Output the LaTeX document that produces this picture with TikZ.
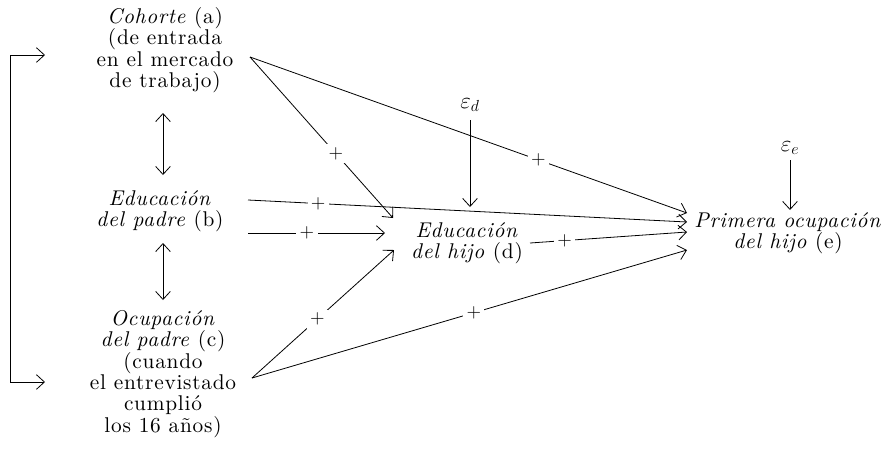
\documentclass[tikz,border=0pt]{standalone}
\usepackage{fontspec}
\setmainfont{lmroman10-regular.otf}[ItalicFont=lmroman10-italic.otf, BoldFont=lmroman10-bold.otf, BoldItalicFont=lmroman10-bolditalic.otf, LetterSpace=3.5]
\usetikzlibrary{arrows.meta}
\begin{document}
\begin{tikzpicture}[x=0.75pt,y=-0.75pt,
  txt/.style={align=center, font=\fontsize{16}{16}\selectfont, inner sep=0pt},
  tip/.tip={Straight Barb[length=6pt,width=11pt]},
  arr/.style={-tip, line width=0.6pt},
  dbl/.style={tip-tip, line width=0.6pt},
  ln/.style={line width=0.6pt},
  plus/.style={fill=white, inner sep=2.5pt, font=\fontsize{14}{14}\selectfont},
  eps/.style={inner sep=0pt, font=\fontsize{17}{17}\selectfont}]
\useasboundingbox (0,0) rectangle (882,451);

% text nodes
\node[txt] (a) at (165,50) {\textit{Cohorte} (a)\\(de entrada\\en el mercado\\de trabajo)};
\node[txt] (b) at (160,211) {\textit{Educación}\\\textit{del padre} (b)};
\node[txt] (c) at (163,374) {\textit{Ocupación}\\\textit{del padre} (c)\\(cuando\\el entrevistado\\cumplió\\los 16 años)};
\node[txt] (d) at (467,243) {\textit{Educación}\\\textit{del hijo} (d)};
\node[txt] (e) at (788,233) {\textit{Primera ocupación}\\\textit{del hijo} (e)};
\node[eps] (ed) at (470,105) {$\varepsilon_{d}$};
\node[eps] (ee) at (790,148) {$\varepsilon_{e}$};

% connector end points
\coordinate (aout) at (250,57);
\coordinate (bout1) at (248,200);
\coordinate (bout2) at (248,233);
\coordinate (cout) at (252,378);
\coordinate (din1) at (393,218);
\coordinate (din2) at (385,233);
\coordinate (din3) at (394,250);
\coordinate (dout) at (530,243);
\coordinate (ein1) at (687,213);
\coordinate (ein2) at (687,222);
\coordinate (ein3) at (687,232);
\coordinate (ein4) at (687,250);
\coordinate (edt) at (470,120);
\coordinate (edb) at (470,207);
\coordinate (eet) at (790,160);
\coordinate (eeb) at (790,210);
\coordinate (abt) at (163,113);
\coordinate (abb) at (163,175);
\coordinate (bct) at (163,243);
\coordinate (bcb) at (163,300);
\coordinate (la) at (45,55);
\coordinate (lc) at (45,382);
\coordinate (k1) at (10,55);
\coordinate (k2) at (10,382);

% bracket
\draw[dbl] (la) -- (k1) -- (k2) -- (lc);
% double arrows
\draw[dbl] (abt) -- (abb);
\draw[dbl] (bct) -- (bcb);
% error terms
\draw[arr] (edt) -- (edb);
\draw[arr] (eet) -- (eeb);
% paths
\draw[arr] (aout) -- node[plus, pos=0.66] {+} (ein1);
\draw[arr] (aout) -- node[plus, pos=0.6] {+} (din1);
\draw[arr] (bout1) -- node[plus, pos=0.16] {+} (ein2);
\draw[arr] (bout2) -- node[plus, pos=0.43] {+} (din2);
\draw[arr] (cout) -- node[plus, pos=0.46] {+} (din3);
\draw[arr] (cout) -- node[plus, pos=0.51] {+} (ein4);
\draw[arr] (dout) -- node[plus, pos=0.22] {+} (ein3);
\end{tikzpicture}
\end{document}
